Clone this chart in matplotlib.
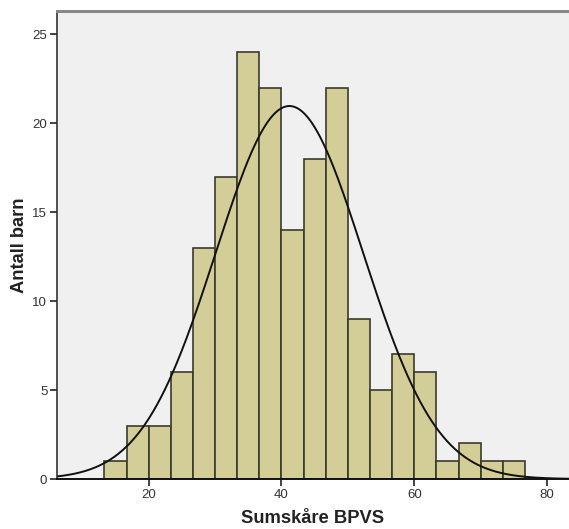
import numpy as np
import matplotlib
matplotlib.use("Agg")
import matplotlib.pyplot as plt

# Data
bin_start = 40 / 3
bin_width = 10 / 3
counts = [1, 3, 3, 6, 13, 17, 24, 22, 14, 18, 22, 9, 5, 7, 6, 1, 2, 1, 1]
fit_mean = 41.2
fit_sd = 11.1
x_ticks = [20, 40, 60, 80]
y_ticks = [0, 5, 10, 15, 20, 25]
x_label = "Sumskåre BPVS"
y_label = "Antall barn"

plt.rcParams['font.family'] = ['Liberation Sans', 'DejaVu Sans']

fig = plt.figure(figsize=(5.69, 5.29), dpi=100)
ax = fig.add_axes([0.1002, 0.0945, 0.8998, 0.8845])
ax.set_facecolor('#f0f0f0')

edges = bin_start + bin_width * np.arange(len(counts) + 1)
ax.bar(edges[:-1], counts, width=bin_width, align='edge',
       color='#d3ce97', edgecolor='#3a3a2a', linewidth=1.2, zorder=2)

n = sum(counts)
xs = np.linspace(6.2, 83.3, 400)
ys = n * bin_width * np.exp(-0.5 * ((xs - fit_mean) / fit_sd) ** 2) / (fit_sd * np.sqrt(2 * np.pi))
ax.plot(xs, ys, color='#111111', linewidth=1.4, zorder=3)

ax.set_xlim(6.2, 83.3)
ax.set_ylim(0, 26.3)
ax.set_xticks(x_ticks)
ax.set_yticks(y_ticks)
ax.tick_params(axis='both', direction='out', length=5, width=1.2,
               colors='#222222', labelsize=9.5, labelcolor='#333333', pad=2)

ax.spines['right'].set_visible(False)
ax.spines['top'].set_color('#888888')
ax.spines['top'].set_linewidth(2.2)
ax.spines['left'].set_color('#333333')
ax.spines['left'].set_linewidth(1.2)
ax.spines['bottom'].set_color('#111111')
ax.spines['bottom'].set_linewidth(1.4)
for s in ax.spines.values():
    s.set_zorder(4)

ax.set_xlabel(x_label, fontsize=13.2, fontweight='bold', color='#222222', labelpad=7)
ax.set_ylabel(y_label, fontsize=13.2, fontweight='bold', color='#222222', labelpad=3)

fig.savefig("out.png", dpi=100, facecolor='white')
